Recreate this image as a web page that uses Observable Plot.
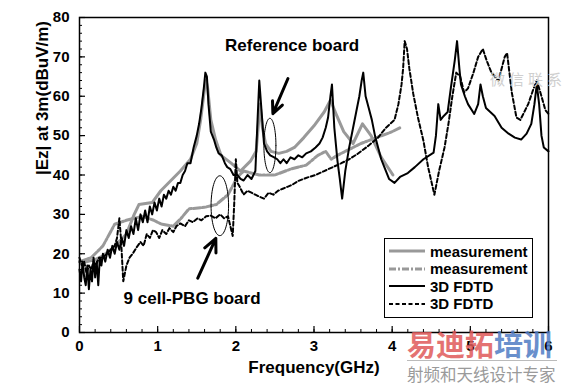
<!DOCTYPE html>
<html><head><meta charset="utf-8">
<script src="https://cdn.jsdelivr.net/npm/d3@7"></script>
<script src="https://cdn.jsdelivr.net/npm/@observablehq/plot@0.6"></script>
<style>
body{margin:0;background:#fff;}
#wrap{position:relative;width:566px;height:387px;overflow:hidden;font-family:"Liberation Sans",Arial,sans-serif;}
#legend{position:absolute;left:384px;top:238px;width:147px;height:78px;border:1.5px solid #000;background:#fff;}
#legend .row{position:absolute;left:0;height:18px;display:flex;align-items:center;font-weight:bold;font-size:15px;color:#000;}
#legend svg{margin-left:4px;margin-right:5px;}
.wm{position:absolute;white-space:nowrap;}
</style></head>
<body><div id="wrap"></div>
<script>
// ---- data (frequency GHz, |Ez| dBuV/m) ----
const measRef = [[0,18],[0.1,18],[0.2,18.5],[0.3,19.5],[0.4,21],[0.5,23],[0.6,25],[0.7,30],[0.76,32.5],[0.93,33],[1.04,36],[1.29,41],[1.42,44],[1.5,48],[1.55,54],[1.6,62],[1.62,64],[1.64,62],[1.68,54],[1.74,49],[1.81,45],[1.94,43],[2.06,41],[2.19,43.6],[2.26,46],[2.31,58],[2.34,52],[2.38,48],[2.45,46],[2.55,45.5],[2.65,46],[2.75,47],[2.87,49.5],[3.0,52.5],[3.13,56],[3.21,59],[3.28,55.6],[3.38,51],[3.5,48],[3.62,53],[3.73,50],[3.8,47],[3.86,44.5],[4.01,40]];
const measPbg = [[0,18],[0.15,19],[0.3,22],[0.45,27.5],[0.6,28.5],[0.8,29.5],[0.95,28.5],[1.05,27.5],[1.2,27],[1.3,29],[1.4,31.4],[1.6,31.8],[1.75,32.5],[1.9,35],[2.02,39.5],[2.1,41],[2.3,40],[2.5,40],[2.7,41.5],[2.9,42.5],[3.05,45],[3.15,46],[3.22,44],[3.3,45],[3.45,46.5],[3.6,48],[3.8,49.5],[4.0,51],[4.1,52]];
const fdtdRef = [[0,16],[0.02,13],[0.04,18],[0.06,14],[0.08,12],[0.1,17],[0.12,11],[0.14,16],[0.16,13],[0.18,19],[0.2,14],[0.22,18],[0.24,12],[0.26,19],[0.28,17],[0.3,20],[0.33,18],[0.36,21],[0.39,19],[0.42,22],[0.45,20],[0.48,23],[0.51,21],[0.54,24],[0.57,22],[0.6,26],[0.63,24],[0.66,27],[0.69,25],[0.72,29],[0.75,26],[0.78,30],[0.81,28],[0.84,31],[0.87,28],[0.9,32],[0.93,30],[0.96,33],[0.99,31],[1.02,34],[1.05,32],[1.08,35],[1.11,34],[1.14,36],[1.17,35],[1.2,37],[1.23,36],[1.26,38],[1.29,38],[1.32,40],[1.35,41],[1.38,43],[1.42,43],[1.46,47],[1.5,50],[1.53,53],[1.56,57],[1.59,62],[1.61,66],[1.63,65],[1.65,58],[1.68,51],[1.72,49],[1.75,47],[1.78,45.5],[1.82,45],[1.86,43],[1.89,42],[1.93,41.5],[1.97,40],[2.02,40],[2.06,39],[2.1,38.6],[2.15,40],[2.2,39],[2.25,41],[2.28,55],[2.3,64],[2.33,56],[2.36,48],[2.4,46],[2.44,45],[2.49,44.5],[2.53,44],[2.57,43],[2.61,44],[2.65,43],[2.7,44.5],[2.75,44],[2.8,45],[2.85,44.5],[2.9,45.5],[2.96,46],[3.02,47],[3.07,48],[3.11,49.5],[3.15,52],[3.18,54.6],[3.21,60],[3.23,63],[3.26,52],[3.3,43.6],[3.33,39],[3.36,34],[3.4,41],[3.45,47],[3.5,52],[3.54,56],[3.58,60],[3.61,64],[3.63,66],[3.66,60],[3.7,57],[3.74,54],[3.78,50],[3.82,47],[3.86,44],[3.9,42],[3.96,39],[4.03,38],[4.1,39.5],[4.2,40.5],[4.29,42],[4.4,44],[4.53,45.7],[4.56,50],[4.59,58],[4.62,54],[4.66,55],[4.71,56],[4.75,62],[4.8,69],[4.83,74],[4.86,67],[4.88,63],[4.93,60],[4.97,58],[5.05,55.5],[5.1,58],[5.13,63],[5.16,60],[5.2,57],[5.31,55],[5.4,52],[5.49,50.5],[5.57,49.5],[5.65,49],[5.72,50.5],[5.78,53],[5.82,58],[5.85,63],[5.88,58],[5.91,50],[5.94,47],[6,46]];
const fdtdPbg = [[0,19],[0.03,17],[0.06,18],[0.09,15],[0.12,17],[0.15,16],[0.18,18],[0.21,17],[0.25,19],[0.3,19],[0.35,20],[0.4,21],[0.45,22],[0.48,24],[0.51,29],[0.53,24],[0.56,13],[0.6,17],[0.64,19],[0.68,20],[0.73,21.6],[0.78,23],[0.82,22],[0.86,25],[0.9,24],[0.94,26],[0.98,25.5],[1.02,24],[1.06,26],[1.11,25],[1.15,26.5],[1.2,25.5],[1.24,27],[1.29,27.7],[1.35,27],[1.4,28.5],[1.45,28],[1.51,29],[1.56,28.5],[1.62,29.5],[1.68,29.7],[1.74,29],[1.8,30],[1.85,29],[1.9,29.5],[1.93,27],[1.96,24.5],[1.98,33],[2.0,44],[2.02,38],[2.05,37],[2.1,35],[2.15,36],[2.2,35.5],[2.25,35],[2.3,34.5],[2.36,34],[2.42,35.5],[2.48,35],[2.54,36],[2.6,36.5],[2.66,37],[2.72,37.5],[2.8,38.5],[2.92,39.4],[3.02,40],[3.13,41],[3.24,42],[3.35,43],[3.45,44],[3.56,45.4],[3.7,47.5],[3.82,49.5],[3.92,52],[4.03,54],[4.08,58],[4.12,63],[4.14,67],[4.16,74],[4.19,72],[4.22,67],[4.27,60.6],[4.33,54.6],[4.4,48.7],[4.46,42],[4.54,35],[4.6,41],[4.67,47],[4.72,53],[4.77,60],[4.82,66],[4.87,65],[4.92,61],[4.97,62],[5.04,66],[5.1,70],[5.16,72],[5.21,69],[5.27,66],[5.36,64],[5.44,70],[5.47,71],[5.53,61],[5.59,54.6],[5.64,54],[5.74,58],[5.81,62],[5.85,64],[5.91,60],[5.96,56.5],[6.0,55.5]];

const xMajor = [0,1,2,3,4,5,6];
const xMinor = d3.range(0, 6.001, 0.2);
const yMajor = [0,10,20,30,40,50,60,70,80];
const yMinor = d3.range(0, 80.001, 2);

const xTitle = "Frequency(GHz)";
const yTitle = "|Ez| at 3m(dBuV/m)";
const labels = [{f:2.72, v:73, t:"Reference board"},{f:1.44, v:8.6, t:"9 cell-PBG board"}];
const ellipses = [{f:2.436, v:47.5, rf:0.077, rv:6.9},{f:1.795, v:32.2, rf:0.112, rv:7.6}];
const arrows = [{f1:2.667, v1:64.5, f2:2.474, v2:55.6},{f1:1.513, v1:13.8, f2:1.744, v2:23.9}];

const legendItems = [
  {name:"measurement", stroke:"#999", w:3, dash:null},
  {name:"measurement", stroke:"#999", w:3, dash:"7,2,2,2"},
  {name:"3D FDTD", stroke:"#000", w:2, dash:null},
  {name:"3D FDTD", stroke:"#000", w:2, dash:"4,2.5"}
];

// ellipse outlines in data units
const ellPts = ellipses.flatMap((e,i)=> d3.range(0,65).map(k=>{const a=k/64*2*Math.PI; return {id:i, f:e.f+e.rf*Math.cos(a), v:e.v+e.rv*Math.sin(a)};}));

const W=566, H=387, ML=79, MR=18, MT=17, MB=55;
const frameW = W-ML-MR, frameH = H-MT-MB;
const chart = Plot.plot({
  width:W, height:H,
  marginLeft:ML, marginRight:MR, marginTop:MT, marginBottom:MB,
  x:{domain:[0,6]}, y:{domain:[0,80]},
  style:{fontFamily:"'Liberation Sans', Arial, sans-serif", fontWeight:"bold", color:"#000", background:"#fff", overflow:"visible"},
  marks:[
    Plot.line(measRef, {x:d=>d[0], y:d=>d[1], stroke:"#999", strokeWidth:3}),
    Plot.line(measPbg, {x:d=>d[0], y:d=>d[1], stroke:"#999", strokeWidth:3, strokeDasharray:"7,2,2,2"}),
    Plot.line(fdtdRef, {x:d=>d[0], y:d=>d[1], stroke:"#000", strokeWidth:2}),
    Plot.line(fdtdPbg, {x:d=>d[0], y:d=>d[1], stroke:"#000", strokeWidth:2, strokeDasharray:"4,2.5"}),
    Plot.line(ellPts, {x:"f", y:"v", z:"id", stroke:"#000", strokeWidth:1}),
    Plot.arrow(arrows, {x1:"f1", y1:"v1", x2:"f2", y2:"v2", stroke:"#000", strokeWidth:3, headLength:12, headAngle:50}),
    Plot.text(labels, {x:"f", y:"v", text:"t", fontSize:17, fontWeight:"bold", fill:"#000"}),
    // inward ticks
    Plot.ruleX(xMinor, {x:d=>d, insetTop:frameH-3, stroke:"#000", strokeWidth:1}),
    Plot.ruleX(xMajor, {x:d=>d, insetTop:frameH-6, stroke:"#000", strokeWidth:1.2}),
    Plot.ruleY(yMinor, {y:d=>d, insetRight:frameW-3, stroke:"#000", strokeWidth:1}),
    Plot.ruleY(yMajor, {y:d=>d, insetRight:frameW-6, stroke:"#000", strokeWidth:1.2}),
    Plot.frame({stroke:"#000", strokeWidth:1.5}),
    Plot.axisX({ticks:xMajor, tickSize:0, tickPadding:8, tickFormat:d=>String(d), fontSize:15, fontWeight:"bold", label:null}),
    Plot.axisY({ticks:yMajor, tickSize:0, tickPadding:10, tickFormat:d=>String(d), fontSize:15, fontWeight:"bold", label:null}),
    Plot.text([xTitle], {text:d=>d, frameAnchor:"bottom", dy:40, fontSize:17, fontWeight:"bold"}),
    Plot.text([yTitle], {text:d=>d, frameAnchor:"left", dx:-37, rotate:-90, fontSize:17, fontWeight:"bold"})
  ]
});
const wrap = document.getElementById("wrap");
wrap.appendChild(chart);

// legend
const leg = document.createElement("div"); leg.id="legend";
legendItems.forEach((it,i)=>{
  const r=document.createElement("div"); r.className="row"; r.style.top=(3+i*17.5)+"px";
  r.innerHTML=`<svg width="36" height="8"><line x1="0" y1="4" x2="36" y2="4" stroke="${it.stroke}" stroke-width="${it.w}" ${it.dash?`stroke-dasharray="${it.dash}"`:""}/></svg><span>${it.name}</span>`;
  leg.appendChild(r);
});
wrap.appendChild(leg);

// watermark texts
const wm = [
  {t:"微信联系", x:490, y:68, s:15, c:"#cfcfcf", w:"normal", ls:"4px"},
  {t:"射频和天线设计专家", x:407, y:362, s:16.5, c:"#9a9a9a", w:"normal", ls:"0px"}
];
wm.forEach(o=>{const s=document.createElement("div"); s.className="wm"; s.textContent=o.t;
  Object.assign(s.style,{left:o.x+"px",top:o.y+"px",fontSize:o.s+"px",color:o.c,fontWeight:o.w,letterSpacing:o.ls,fontFamily:"'Noto Sans CJK SC',sans-serif"}); wrap.appendChild(s);});
const logo=document.createElement("div"); logo.className="wm";
Object.assign(logo.style,{left:"407px",top:"326px",fontSize:"29px",fontWeight:"bold",fontFamily:"'Noto Sans CJK SC',sans-serif",lineHeight:"34px",opacity:"0.85"});
logo.innerHTML='<span style="color:#e05a5a">易迪拓</span><span style="color:#4f7cc4">培训</span>';
wrap.appendChild(logo);
const rule=document.createElement("div"); rule.className="wm";
Object.assign(rule.style,{left:"407px",top:"360px",width:"150px",height:"1px",background:"#bbb"});
wrap.appendChild(rule);
</script></body></html>
